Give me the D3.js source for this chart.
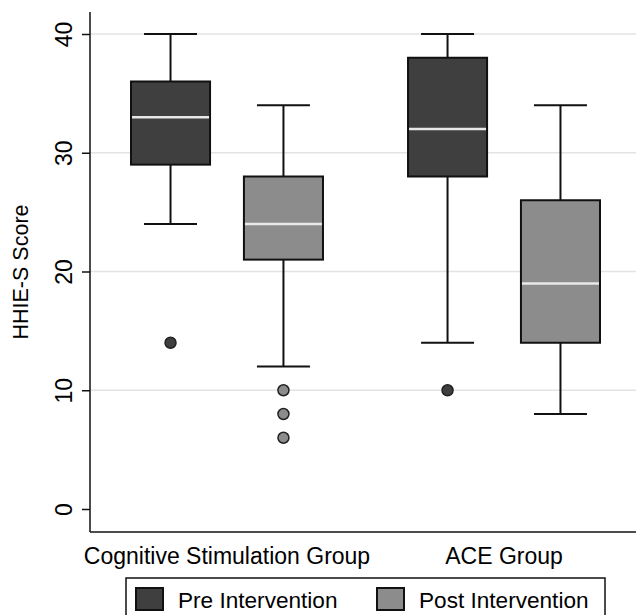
<!DOCTYPE html>
<html>
<head>
<meta charset="UTF-8" />
<title>HHIE-S Score</title>
<script src="https://cdn.jsdelivr.net/npm/d3@7/dist/d3.min.js"></script>
<style>
  body { margin: 0; background: #fff; }
  text { font-family: "Liberation Sans", Arial, sans-serif; fill: #000; }
</style>
</head>
<body>
<script>
// data
var groups = ["Cognitive Stimulation Group", "ACE Group"];
var phases = ["Pre Intervention", "Post Intervention"];
var phaseColors = ["#3f3f3f", "#8c8c8c"];
var yTicks = [0, 10, 20, 30, 40];

// one entry per box: [group, phase]
var boxKeys = [[0, 0], [0, 1], [1, 0], [1, 1]];
var whiskerLow  = [24, 12, 14, 8];
var boxLow      = [29, 21, 28, 14];
var medians     = [33, 24, 32, 19];
var boxHigh     = [36, 28, 38, 26];
var whiskerHigh = [40, 34, 40, 34];
var outliers    = [[14], [10, 8, 6], [10], []];

var W = 636, H = 615;
var mLeft = 90, mRight = 636, mTop = 12, mBottom = 532;

var svg = d3.select("body").append("svg")
  .attr("width", W)
  .attr("height", H);

var y = d3.scaleLinear().domain([0, 40]).range([509, 34]);

var xGroup = d3.scaleBand().domain(d3.range(groups.length))
  .range([mLeft, 641]).paddingInner(0.307).paddingOuter(0.148);
var xPhase = d3.scaleBand().domain(d3.range(phases.length))
  .range([0, xGroup.bandwidth()]).paddingInner(0.3).paddingOuter(0);

// gridlines
svg.append("g").selectAll("line")
  .data(yTicks.filter(function (d) { return d > 0; }))
  .enter().append("line")
  .attr("x1", mLeft).attr("x2", mRight)
  .attr("y1", function (d) { return y(d); })
  .attr("y2", function (d) { return y(d); })
  .attr("stroke", "#e3e3e3")
  .attr("stroke-width", 1.5);

// boxes
var bw = xPhase.bandwidth();
var boxes = svg.append("g").selectAll("g")
  .data(boxKeys)
  .enter().append("g")
  .attr("transform", function (d) {
    return "translate(" + (xGroup(d[0]) + xPhase(d[1])) + ",0)";
  });

boxes.append("line")
  .attr("x1", bw / 2).attr("x2", bw / 2)
  .attr("y1", function (d, i) { return y(whiskerHigh[i]); })
  .attr("y2", function (d, i) { return y(whiskerLow[i]); })
  .attr("stroke", "#111").attr("stroke-width", 2);

boxes.selectAll(".cap")
  .data(function (d, i) { return [whiskerLow[i], whiskerHigh[i]]; })
  .enter().append("line")
  .attr("x1", bw * 0.165).attr("x2", bw * 0.835)
  .attr("y1", function (v) { return y(v); })
  .attr("y2", function (v) { return y(v); })
  .attr("stroke", "#111").attr("stroke-width", 2);

boxes.append("rect")
  .attr("x", 0).attr("width", bw)
  .attr("y", function (d, i) { return y(boxHigh[i]); })
  .attr("height", function (d, i) { return y(boxLow[i]) - y(boxHigh[i]); })
  .attr("fill", function (d) { return phaseColors[d[1]]; })
  .attr("stroke", "#111").attr("stroke-width", 2);

boxes.append("line")
  .attr("x1", 1).attr("x2", bw - 1)
  .attr("y1", function (d, i) { return y(medians[i]); })
  .attr("y2", function (d, i) { return y(medians[i]); })
  .attr("stroke", "#e8e8e8").attr("stroke-width", 2.5);

boxes.selectAll("circle")
  .data(function (d, i) { return outliers[i].map(function (v) { return { v: v, p: d[1] }; }); })
  .enter().append("circle")
  .attr("cx", bw / 2)
  .attr("cy", function (o) { return y(o.v); })
  .attr("r", 5.5)
  .attr("fill", function (o) { return phaseColors[o.p]; })
  .attr("stroke", "#222").attr("stroke-width", 1.5);

// y axis
var yAxis = svg.append("g")
  .attr("transform", "translate(" + mLeft + ",0)")
  .call(d3.axisLeft(y).tickValues(yTicks).tickSize(8).tickSizeOuter(0));
yAxis.select(".domain").remove();
yAxis.selectAll(".tick line").attr("stroke", "#111").attr("stroke-width", 1.5);
yAxis.selectAll(".tick text")
  .attr("font-size", 23)
  .attr("x", null).attr("dy", null)
  .attr("text-anchor", "middle")
  .attr("transform", "translate(-18,0) rotate(-90)")
  .attr("y", 0);

svg.append("line")
  .attr("x1", mLeft).attr("x2", mLeft)
  .attr("y1", mTop).attr("y2", mBottom)
  .attr("stroke", "#111").attr("stroke-width", 1.5);
svg.append("line")
  .attr("x1", mLeft).attr("x2", mRight)
  .attr("y1", mBottom).attr("y2", mBottom)
  .attr("stroke", "#111").attr("stroke-width", 1.5);

svg.append("text")
  .attr("transform", "translate(28," + 272 + ") rotate(-90)")
  .attr("text-anchor", "middle")
  .attr("font-size", 21.5)
  .text("HHIE-S Score");

// group labels
svg.append("g").selectAll("text")
  .data(groups)
  .enter().append("text")
  .attr("x", function (d, i) { return xGroup(i) + xGroup.bandwidth() / 2; })
  .attr("y", 564)
  .attr("text-anchor", "middle")
  .attr("font-size", 23)
  .text(function (d) { return d; });

// legend
svg.append("rect")
  .attr("x", 126).attr("y", 578)
  .attr("width", 479).attr("height", 45)
  .attr("fill", "#fff").attr("stroke", "#111").attr("stroke-width", 1.5);

var legendX = [136, 377];
var leg = svg.append("g").selectAll("g")
  .data(phases)
  .enter().append("g")
  .attr("transform", function (d, i) { return "translate(" + legendX[i] + ",588)"; });
leg.append("rect")
  .attr("width", 27).attr("height", 22)
  .attr("fill", function (d, i) { return phaseColors[i]; })
  .attr("stroke", "#111").attr("stroke-width", 2);
leg.append("text")
  .attr("x", 42).attr("y", 20)
  .attr("font-size", 22.6)
  .text(function (d) { return d; });
</script>
</body>
</html>
